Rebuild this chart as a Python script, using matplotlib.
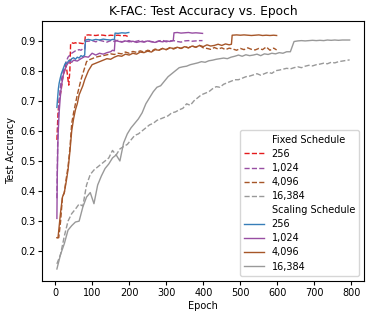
import matplotlib
matplotlib.use("Agg")
import matplotlib.pyplot as plt
from matplotlib.lines import Line2D

# ---------------- data ----------------
fixed_256_x = [5, 8, 11, 14, 17, 20, 23, 26, 29, 32, 35, 37, 40, 42, 45, 50, 55, 60, 65, 70, 75, 80, 82, 90, 100,
               110, 120, 130, 140, 150, 160, 170, 180, 190, 196]
fixed_256_y = [0.57, 0.66, 0.70, 0.72, 0.74, 0.77, 0.79, 0.80, 0.82, 0.80, 0.77, 0.752, 0.80, 0.891, 0.893, 0.891,
               0.893, 0.89, 0.892, 0.891, 0.89, 0.894, 0.918, 0.919, 0.918, 0.917, 0.919, 0.918, 0.916, 0.918,
               0.917, 0.918, 0.916, 0.917, 0.914]

scal_256_x = [5, 7, 9, 11, 14, 17, 20, 23, 26, 29, 32, 35, 38, 41, 45, 50, 55, 60, 65, 70, 75, 80, 82, 90, 100, 110,
              120, 130, 140, 150, 155, 160, 162, 170, 180, 190, 199]
scal_256_y = [0.678, 0.71, 0.74, 0.758, 0.775, 0.79, 0.80, 0.81, 0.82, 0.827, 0.822, 0.83, 0.835, 0.83, 0.84, 0.843,
              0.838, 0.845, 0.842, 0.85, 0.847, 0.852, 0.902, 0.904, 0.901, 0.904, 0.902, 0.905, 0.903, 0.902, 0.904,
              0.903, 0.925, 0.924, 0.926, 0.925, 0.927]

fixed_1024_x = [5, 7, 9, 11, 14, 17, 20, 23, 26, 30, 35, 40, 45, 50, 55, 60, 65, 70, 75, 80, 82, 90, 100, 110, 120,
                130, 140, 150, 160, 170, 180, 190, 200, 210, 220, 230, 240, 250, 260, 270, 280, 290, 300, 310, 320,
                330, 340, 350, 360, 370, 380, 390, 398]
fixed_1024_y = [0.376, 0.55, 0.64, 0.70, 0.74, 0.77, 0.786, 0.80, 0.815, 0.83, 0.845, 0.852, 0.858, 0.862, 0.866,
                0.868, 0.87, 0.868, 0.873, 0.872, 0.897, 0.898, 0.90, 0.896, 0.901, 0.898, 0.895, 0.90, 0.897,
                0.901, 0.896, 0.899, 0.90, 0.895, 0.898, 0.901, 0.896, 0.899, 0.897, 0.895, 0.899, 0.901, 0.896,
                0.899, 0.90, 0.897, 0.895, 0.899, 0.90, 0.898, 0.899, 0.90, 0.90]

scal_1024_x = [5, 6, 8, 11, 14, 17, 20, 23, 26, 30, 35, 40, 45, 50, 60, 70, 80, 90, 100, 110, 120, 130, 140, 150,
               155, 160, 162, 170, 180, 190, 200, 210, 220, 230, 240, 250, 260, 270, 280, 290, 300, 310, 319, 321,
               330, 340, 350, 360, 370, 380, 390, 398]
scal_1024_y = [0.309, 0.45, 0.58, 0.66, 0.71, 0.747, 0.77, 0.79, 0.80, 0.815, 0.825, 0.83, 0.828, 0.835, 0.832,
               0.84, 0.847, 0.845, 0.858, 0.852, 0.858, 0.855, 0.86, 0.863, 0.868, 0.866, 0.902, 0.898, 0.895,
               0.899, 0.896, 0.898, 0.894, 0.897, 0.895, 0.899, 0.896, 0.894, 0.898, 0.896, 0.899, 0.897, 0.90,
               0.926, 0.927, 0.925, 0.926, 0.927, 0.925, 0.926, 0.925, 0.924]

fixed_4096_x = [5, 10, 15, 20, 25, 30, 35, 40, 45, 50, 55, 60, 65, 70, 75, 80, 85, 90, 100, 110, 120, 130, 140, 150,
                160, 170, 180, 190, 200, 210, 220, 230, 240, 250, 260, 270, 280, 290, 300, 310, 320, 330, 340, 350,
                360, 370, 380, 390, 400, 410, 420, 430, 440, 450, 460, 470, 480, 490, 500, 510, 520, 530, 540, 550,
                560, 570, 580, 590, 598]
fixed_4096_y = [0.245, 0.245, 0.30, 0.38, 0.395, 0.44, 0.48, 0.54, 0.625, 0.66, 0.69, 0.72, 0.745, 0.77, 0.79,
                0.81, 0.83, 0.835, 0.84, 0.845, 0.848, 0.85, 0.853, 0.856, 0.854, 0.858, 0.856, 0.862, 0.858, 0.864,
                0.861, 0.866, 0.862, 0.868, 0.865, 0.872, 0.868, 0.874, 0.87, 0.877, 0.872, 0.878, 0.874, 0.88,
                0.876, 0.882, 0.878, 0.884, 0.876, 0.874, 0.871, 0.877, 0.872, 0.876, 0.87, 0.875, 0.872, 0.868,
                0.874, 0.87, 0.876, 0.871, 0.869, 0.874, 0.87, 0.879, 0.868, 0.875, 0.869]

scal_4096_x = [5, 8, 15, 20, 25, 30, 35, 40, 45, 50, 55, 60, 65, 70, 75, 80, 90, 100, 110, 120, 130, 140, 150, 160,
               170, 180, 190, 200, 210, 220, 230, 240, 250, 260, 270, 280, 290, 300, 310, 320, 330, 340, 350, 360,
               370, 380, 390, 400, 410, 420, 430, 440, 450, 460, 470, 476, 478, 490, 500, 510, 520, 530, 540, 550,
               560, 570, 580, 590, 598]
scal_4096_y = [0.245, 0.245, 0.33, 0.38, 0.395, 0.43, 0.47, 0.53, 0.60, 0.64, 0.67, 0.69, 0.72, 0.735, 0.75, 0.77,
               0.80, 0.82, 0.825, 0.83, 0.835, 0.84, 0.838, 0.845, 0.85, 0.848, 0.855, 0.852, 0.858, 0.855, 0.862,
               0.86, 0.865, 0.862, 0.87, 0.868, 0.874, 0.87, 0.876, 0.874, 0.878, 0.874, 0.88, 0.876, 0.882, 0.878,
               0.884, 0.88, 0.886, 0.882, 0.884, 0.888, 0.884, 0.889, 0.886, 0.888, 0.918, 0.919, 0.918, 0.919,
               0.918, 0.917, 0.918, 0.919, 0.917, 0.918, 0.917, 0.918, 0.917]

epochs_16384 = list(range(5, 801, 10))
fixed_16384_y = [0.158, 0.19, 0.25, 0.30, 0.325, 0.34, 0.357, 0.35, 0.42, 0.455, 0.47, 0.48, 0.49, 0.50, 0.51,
                 0.535, 0.52, 0.54, 0.548, 0.555, 0.57, 0.585, 0.59, 0.60, 0.61, 0.62, 0.625, 0.635, 0.64, 0.645,
                 0.65, 0.66, 0.663, 0.67, 0.675, 0.69, 0.685, 0.70, 0.71, 0.72, 0.725, 0.73, 0.74, 0.747, 0.745,
                 0.755, 0.76, 0.765, 0.77, 0.77, 0.775, 0.78, 0.782, 0.786, 0.79, 0.785, 0.79, 0.795, 0.791, 0.80,
                 0.802, 0.805, 0.808, 0.806, 0.81, 0.813, 0.81, 0.815, 0.818, 0.816, 0.82, 0.822, 0.825, 0.823,
                 0.828, 0.826, 0.83, 0.832, 0.834, 0.836]
scal_16384_y = [0.141, 0.19, 0.225, 0.27, 0.285, 0.297, 0.30, 0.347, 0.38, 0.395, 0.358, 0.42, 0.45, 0.475, 0.49,
                0.51, 0.52, 0.50, 0.56, 0.59, 0.61, 0.625, 0.64, 0.66, 0.69, 0.71, 0.73, 0.745, 0.75, 0.765, 0.78,
                0.79, 0.80, 0.81, 0.813, 0.815, 0.82, 0.823, 0.826, 0.83, 0.828, 0.833, 0.835, 0.838, 0.84, 0.842,
                0.84, 0.845, 0.848, 0.852, 0.848, 0.853, 0.85, 0.852, 0.855, 0.85, 0.856, 0.854, 0.858, 0.856,
                0.86, 0.858, 0.863, 0.863, 0.897, 0.899, 0.90, 0.899, 0.90, 0.901, 0.90, 0.901, 0.90, 0.902,
                0.901, 0.902, 0.901, 0.902, 0.902, 0.902]

batch_labels = ["256", "1,024", "4,096", "16,384"]
fixed_colors = ["#e41a1c", "#984ea3", "#a65628", "#999999"]
scal_colors = ["#377eb8", "#984ea3", "#a65628", "#999999"]

# ---------------- plot ----------------
fig = plt.figure(figsize=(3.74, 3.18), dpi=100)
ax = fig.add_axes([0.113, 0.117, 0.861, 0.818])

fixed = [(fixed_256_x, fixed_256_y), (fixed_1024_x, fixed_1024_y), (fixed_4096_x, fixed_4096_y),
         (epochs_16384, fixed_16384_y)]
scal = [(scal_256_x, scal_256_y), (scal_1024_x, scal_1024_y), (scal_4096_x, scal_4096_y),
        (epochs_16384, scal_16384_y)]

fixed_handles = []
scal_handles = []
for (x, y), c, lab in zip(fixed, fixed_colors, batch_labels):
    h, = ax.plot(x, y, color=c, linestyle="--", linewidth=1.0, label=lab)
    fixed_handles.append(h)
for (x, y), c, lab in zip(scal, scal_colors, batch_labels):
    h, = ax.plot(x, y, color=c, linestyle="-", linewidth=1.0, label=lab)
    scal_handles.append(h)

blank = Line2D([], [], linestyle="none", color="none")
handles = [blank] + fixed_handles + [blank] + scal_handles
labels = ["Fixed Schedule"] + batch_labels + ["Scaling Schedule"] + batch_labels
ax.legend(handles, labels, loc="lower right", fontsize=7, handlelength=2.0, labelspacing=0.42,
          borderpad=0.45, handletextpad=0.8)

ax.set_title("K-FAC: Test Accuracy vs. Epoch", fontsize=8.8, pad=4)
ax.set_xlabel("Epoch", fontsize=7, labelpad=2)
ax.set_ylabel("Test Accuracy", fontsize=7, labelpad=3)
ax.tick_params(labelsize=7, length=3, pad=2)
ax.set_xticks(range(0, 801, 100))

fig.savefig("out.png", dpi=100)
